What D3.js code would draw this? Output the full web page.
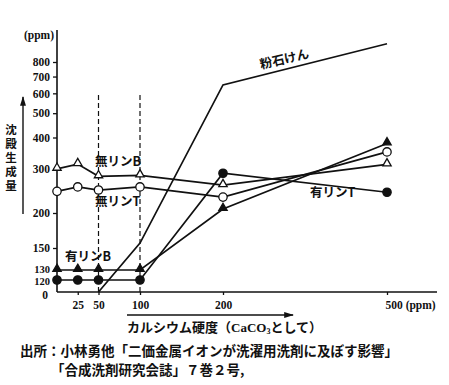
<!DOCTYPE html>
<html>
<head>
<meta charset="utf-8">
<script src="https://cdn.jsdelivr.net/npm/d3@7"></script>
<style>
  body { margin: 0; background: #fff; }
  svg { display: block; }
  .num { font-family: "Liberation Serif", serif; font-weight: bold; font-size: 11.5px; fill: #111; }
  .jp { font-family: "Noto Sans CJK JP", sans-serif; font-weight: bold; font-size: 12.5px; fill: #111; }
</style>
</head>
<body>
<svg id="chart" width="449" height="385"></svg>
<script>
const width = 449;
const height = 385;

// hardness (ppm CaCO3)
const xTicks = [25, 50, 100, 200, 500];
const yTicks = [0, 120, 130, 150, 200, 300, 400, 500, 600, 700, 800];

const hardness = [0, 25, 50, 100, 200, 500];
const mulinB = [300, 315, 283, 285, 263, 314];   // open triangle
const mulinT = [249, 259, 252, 259, 236, 354];   // open circle
const yulinB = [130, 130, 130, 130, 209, 381];   // filled triangle
const yulinT = [120, 120, 120, 120, 290, 247];   // filled circle
const soapX = [50, 100, 200, 500];
const soapY = [0, 157, 650, 950];

const X0 = 57, AXIS_Y = 292;

const svg = d3.select('#chart');

const defs = svg.append('defs');
defs.append('marker')
  .attr('id', 'arrow')
  .attr('viewBox', '0 0 10 10')
  .attr('refX', 9).attr('refY', 5)
  .attr('markerWidth', 7).attr('markerHeight', 7)
  .attr('orient', 'auto-start-reverse')
  .append('path')
  .attr('d', 'M0,2 L10,5 L0,8 Z')
  .attr('fill', '#111');

const x = d3.scaleLinear().domain([0, 200, 500]).range([X0, 223, 387]);

// upper part is logarithmic, lower part is stretched by hand
const yLog = d3.scaleLog().domain([200, 800]).range([213, 62]);
const yDomain = [0, 120, 130, 150, 200, 300, 400, 500, 600, 700, 800, 1000];
const y = d3.scaleLinear()
  .domain(yDomain)
  .range([AXIS_Y, 280, 270, 248].concat(yDomain.slice(4).map(v => yLog(v))));

// axes
svg.append('line')
  .attr('x1', X0).attr('x2', X0).attr('y1', 30).attr('y2', AXIS_Y)
  .attr('stroke', '#111').attr('stroke-width', 1.6);
svg.append('line')
  .attr('x1', X0).attr('x2', 437).attr('y1', AXIS_Y).attr('y2', AXIS_Y)
  .attr('stroke', '#111').attr('stroke-width', 1.6);

const yAxis = svg.append('g')
  .attr('transform', `translate(${X0},0)`)
  .call(d3.axisLeft(y).tickValues(yTicks).tickSize(4).tickPadding(3).tickFormat(d3.format('d')));
yAxis.select('.domain').remove();
yAxis.selectAll('line').attr('stroke', '#111').attr('stroke-width', 1.3);
yAxis.selectAll('text').attr('class', 'num').attr('font-family', null).attr('font-size', null).attr('fill', null);
yAxis.selectAll('.tick').filter(d => d === 0).select('text').attr('dy', '0.6em').attr('x', -9);
yAxis.selectAll('.tick').filter(d => d === 0).select('line').remove();
// 120 / 130 sit very close together
yAxis.selectAll('.tick').filter(d => d === 130).select('text').style('font-size', '10.5px').attr('dy', '0.2em');
yAxis.selectAll('.tick').filter(d => d === 120).select('text').style('font-size', '10.5px').attr('dy', '0.45em');

const xAxis = svg.append('g')
  .attr('transform', `translate(0,${AXIS_Y})`)
  .call(d3.axisBottom(x).tickValues(xTicks).tickSize(3).tickPadding(6).tickFormat(d => d === 500 ? '500 (ppm)' : d));
xAxis.select('.domain').remove();
xAxis.selectAll('line').attr('stroke', '#111').attr('stroke-width', 1.3);
xAxis.selectAll('text').attr('class', 'num').attr('font-family', null).attr('font-size', null).attr('fill', null);
xAxis.selectAll('.tick').filter(d => d === 500).select('text')
  .attr('text-anchor', 'start').attr('x', -2);

svg.append('text').attr('class', 'num')
  .attr('x', 54).attr('y', 39).attr('text-anchor', 'end').text('(ppm)');

// dashed guides at 50 and 100
svg.selectAll('.guide')
  .data([50, 100])
  .enter().append('line')
  .attr('x1', d => x(d)).attr('x2', d => x(d))
  .attr('y1', 95).attr('y2', AXIS_Y)
  .attr('stroke', '#111').attr('stroke-width', 1.2)
  .attr('stroke-dasharray', '5,3');

// series lines
const line = d3.line().x(d => x(d[0])).y(d => y(d[1]));
const series = [
  { vals: mulinB, shape: 'tri', fill: '#fff' },
  { vals: mulinT, shape: 'circle', fill: '#fff' },
  { vals: yulinB, shape: 'tri', fill: '#111' },
  { vals: yulinT, shape: 'circle', fill: '#111' },
];

svg.append('path')
  .attr('d', line(d3.zip(soapX, soapY)))
  .attr('fill', 'none').attr('stroke', '#111').attr('stroke-width', 1.7);

series.forEach(s => {
  const pts = d3.zip(hardness, s.vals);
  svg.append('path')
    .attr('d', line(pts))
    .attr('fill', 'none').attr('stroke', '#111').attr('stroke-width', 1.7);
  const sym = d3.symbol()
    .type(s.shape === 'tri' ? d3.symbolTriangle : d3.symbolCircle)
    .size(s.shape === 'tri' ? 30 : 55);
  svg.selectAll(null)
    .data(pts)
    .enter().append('path')
    .attr('d', sym)
    .attr('transform', d => `translate(${x(d[0])},${y(d[1]) - (s.shape === 'tri' ? 1 : 0)})`)
    .attr('fill', s.fill).attr('stroke', '#111').attr('stroke-width', 1.3);
});

// series labels
const labels = [
  { t: '無リンB', x: 95, y: 166 },
  { t: '無リンT', x: 95, y: 206 },
  { t: '有リンB', x: 65, y: 261 },
  { t: '有リンT', x: 310, y: 197 },
];
labels.forEach(l => {
  svg.append('text').attr('class', 'jp').attr('x', l.x).attr('y', l.y).text(l.t);
});
svg.append('text').attr('class', 'jp')
  .attr('transform', 'translate(261,69) rotate(-13)')
  .text('粉石けん');

// y title (vertical) with arrow
svg.append('text').attr('class', 'jp')
  .attr('x', 11).attr('y', 124)
  .style('font-size', '11.5px')
  .style('writing-mode', 'vertical-rl')
  .style('letter-spacing', '2.5px')
  .text('沈殿生成量');
svg.append('line')
  .attr('x1', 23).attr('x2', 23).attr('y1', 214).attr('y2', 97)
  .attr('stroke', '#111').attr('stroke-width', 1.4)
  .attr('marker-end', 'url(#arrow)');

// x title with arrow
svg.append('line')
  .attr('x1', 127).attr('x2', 293).attr('y1', 315).attr('y2', 315)
  .attr('stroke', '#111').attr('stroke-width', 1.4)
  .attr('marker-end', 'url(#arrow)');
const xt = svg.append('text').attr('class', 'jp').attr('x', 127).attr('y', 332).style('font-size', '13px');
xt.append('tspan').text('カルシウム硬度（');
xt.append('tspan').attr('class', 'num').style('font-size', '13px').text('CaCO');
xt.append('tspan').attr('class', 'num').style('font-size', '8px').attr('dy', 2).text('3');
xt.append('tspan').attr('dy', -2).text('として）');

// source
svg.append('text').attr('class', 'jp').attr('x', 20).attr('y', 356).style('font-size', '13.5px')
  .text('出所：小林勇他「二価金属イオンが洗濯用洗剤に及ぼす影響」');
svg.append('text').attr('class', 'jp').attr('x', 51).attr('y', 375).style('font-size', '13.5px')
  .text('「合成洗剤研究会誌」７巻２号,');
</script>
</body>
</html>
